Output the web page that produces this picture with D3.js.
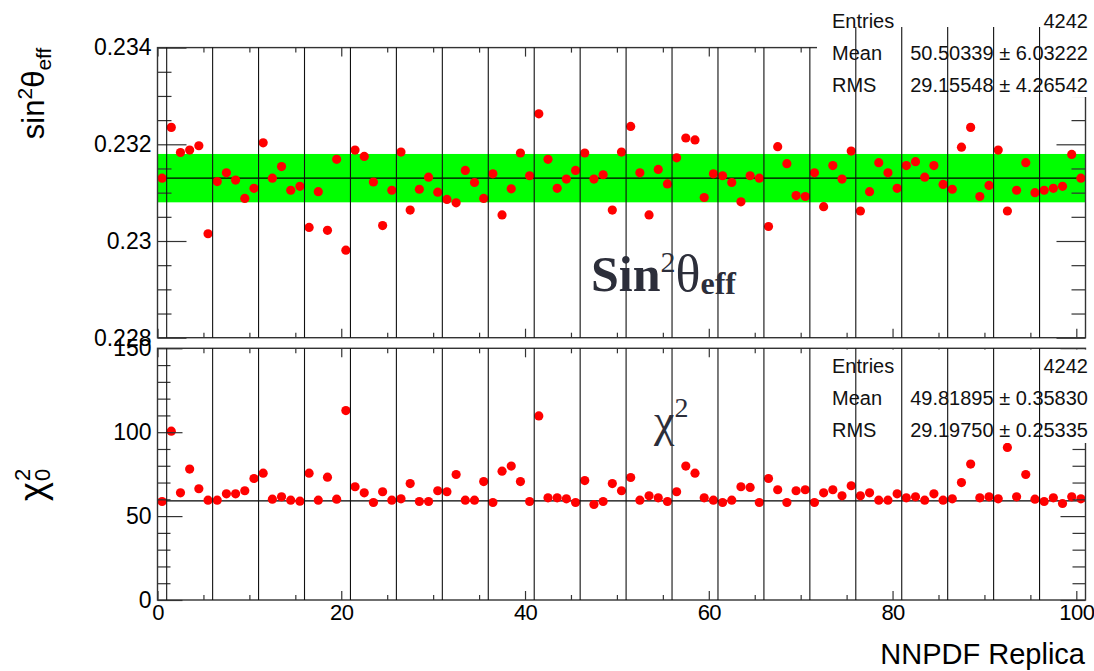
<!DOCTYPE html>
<html><head><meta charset="utf-8">
<script src="https://cdn.jsdelivr.net/npm/d3@7"></script>
<style>body{margin:0;background:#fff}svg{display:block}</style>
</head><body>
<svg id="c" width="1094" height="671"></svg>
<script>
// ---------- data ----------
const replicas = d3.range(0, 101); // replica index 0..100
const sinValues = [0.23130,0.23235,0.23183,0.23188,0.23197,0.23015,0.23123,0.23141,0.23126,0.23088,
0.23109,0.23203,0.23130,0.23154,0.23105,0.23113,0.23028,0.23102,0.23022,0.23169,
0.22981,0.23188,0.23175,0.23122,0.23032,0.23105,0.23184,0.23064,0.23107,0.23132,
0.23101,0.23086,0.23079,0.23146,0.23121,0.23088,0.23139,0.23054,0.23108,0.23182,
0.23135,0.23263,0.23169,0.23109,0.23128,0.23146,0.23182,0.23128,0.23137,0.23064,
0.23184,0.23237,0.23141,0.23054,0.23148,0.23118,0.23172,0.23213,0.23209,0.23090,
0.23139,0.23135,0.23121,0.23081,0.23135,0.23130,0.23030,0.23195,0.23160,0.23094,
0.23092,0.23141,0.23071,0.23156,0.23128,0.23186,0.23062,0.23102,0.23162,0.23141,
0.23109,0.23156,0.23164,0.23132,0.23156,0.23117,0.23107,0.23194,0.23235,0.23092,
0.23115,0.23188,0.23062,0.23105,0.23162,0.23100,0.23105,0.23109,0.23113,0.23179,
0.23130];
const chi2Values = [58.7,100.6,63.9,78.0,66.3,59.5,59.5,63.3,63.3,65.1,
72.4,75.6,60.1,61.5,59.5,58.9,75.6,59.5,73.2,60.1,
112.9,67.5,63.9,58.1,64.5,59.5,60.3,69.4,58.7,58.7,
65.1,64.5,74.8,59.5,59.5,70.6,58.1,76.8,79.8,70.6,
58.7,109.7,60.9,60.9,60.3,58.1,71.2,56.9,58.7,69.4,
65.1,73.0,59.5,62.1,60.9,58.7,64.5,79.8,75.6,60.9,
59.5,58.1,59.5,67.5,67.1,58.1,72.4,65.7,58.1,65.1,
65.7,58.1,63.9,65.7,62.1,68.1,62.1,63.9,59.5,59.5,
63.3,60.9,61.5,59.5,63.3,59.5,60.3,70.0,81.0,60.9,
61.5,60.3,90.9,61.5,74.8,60.1,58.7,60.9,57.5,61.5,
60.3];
const sinCentral = 0.2313;
const sinBand = [0.2308, 0.2318];
const chi2Central = 59.1;
const sinYTicks = [0.228, 0.230, 0.232, 0.234];
const sinYTickLabels = ["0.228", "0.23", "0.232", "0.234"];
const chiYTicks = [0, 50, 100, 150];
const chiYTickLabels = ["0", "50", "100", "150"];
const xTicks = [0, 20, 40, 60, 80, 100];
const xTickLabels = ["0", "20", "40", "60", "80", "100"];
const statsTop = [["Entries", "4242"], ["Mean", "50.50339 \u00b1 6.03222"], ["RMS", "29.15548 \u00b1 4.26542"]];
const statsBottom = [["Entries", "4242"], ["Mean", "49.81895 \u00b1 0.35830"], ["RMS", "29.19750 \u00b1 0.25335"]];

// ---------- layout ----------
const svg = d3.select("#c");
const L = 157.5, R = 1085.5;
const x = d3.scaleLinear().domain([0, 101]).range([L, R]);
const gridX = d3.range(1, 100, 5);
const xMinor = d3.range(0, 101, 5).filter(v => v % 20 !== 0);
const SANS = "'Liberation Sans', Arial, Helvetica, sans-serif";
const SERIF = "'Liberation Serif', 'Times New Roman', serif";
const boxL = 817;

function panel(opt) {
  const y = opt.y;
  const T = y.range()[1], B = y.range()[0];
  const g = svg.append("g");
  if (opt.band) {
    g.append("rect").attr("x", L).attr("width", R - L)
      .attr("y", y(opt.band[1])).attr("height", y(opt.band[0]) - y(opt.band[1]))
      .attr("fill", "#00ff00");
  }
  g.append("line").attr("x1", L).attr("x2", R)
    .attr("y1", y(opt.central)).attr("y2", y(opt.central))
    .attr("stroke", "#000").attr("stroke-width", 1.2);
  g.selectAll("circle.pt").data(opt.values).join("circle")
    .attr("class", "pt")
    .attr("cx", (d, i) => x(replicas[i] + 0.5))
    .attr("cy", d => y(d)).attr("r", 4.6).attr("fill", "#ff0000");

  const tk = (axis, tx, ty) => {
    const a = g.append("g").attr("transform", `translate(${tx},${ty})`).call(axis);
    a.select(".domain").remove();
    a.selectAll("line").attr("stroke", "#333").attr("stroke-width", 1.2);
    return a;
  };
  tk(d3.axisRight(y).tickValues(opt.yTicks).tickSize(opt.yMaj).tickFormat(""), L, 0);
  tk(d3.axisRight(y).tickValues(opt.yMinor).tickSize(opt.yMin).tickFormat(""), L, 0);
  tk(d3.axisLeft(y).tickValues(opt.yTicks).tickSize(opt.yMaj).tickFormat(""), R, 0);
  tk(d3.axisLeft(y).tickValues(opt.yMinor).tickSize(opt.yMin).tickFormat(""), R, 0);
  tk(d3.axisTop(x).tickValues(xTicks).tickSize(9).tickFormat(""), 0, B);
  tk(d3.axisTop(x).tickValues(xMinor).tickSize(5).tickFormat(""), 0, B);
  tk(d3.axisBottom(x).tickValues(xTicks).tickSize(9).tickFormat(""), 0, T);
  tk(d3.axisBottom(x).tickValues(xMinor).tickSize(5).tickFormat(""), 0, T);

  const yl = g.append("g").attr("transform", `translate(${L},0)`)
    .call(d3.axisLeft(y).tickValues(opt.yTicks).tickSize(0).tickPadding(6)
      .tickFormat((d, i) => opt.yLabels[i]));
  yl.select(".domain").remove();
  yl.selectAll("text").attr("font-family", SANS).attr("font-size", 23).attr("fill", "#000");

  if (opt.xLabels) {
    const xl = g.append("g").attr("transform", `translate(0,${B})`)
      .call(d3.axisBottom(x).tickValues(xTicks).tickSize(0).tickPadding(4)
        .tickFormat((d, i) => xTickLabels[i]));
    xl.select(".domain").remove();
    xl.selectAll("text").attr("font-family", SANS).attr("font-size", 22)
      .attr("letter-spacing", -0.6).attr("fill", "#000");
  }

  g.append("rect").attr("x", L).attr("y", T).attr("width", R - L).attr("height", B - T)
    .attr("fill", "none").attr("stroke", "#333").attr("stroke-width", 1.4);

  g.append("rect").attr("x", boxL).attr("y", opt.boxTop).attr("width", 1094 - boxL)
    .attr("height", opt.boxBottom - opt.boxTop).attr("fill", "#fff");
  opt.stats.forEach((s, i) => {
    g.append("text").attr("x", 832).attr("y", opt.statsBase + i * 32)
      .attr("font-family", SANS).attr("font-size", 20).attr("fill", "#111").text(s[0]);
    g.append("text").attr("x", 1088).attr("y", opt.statsBase + i * 32).attr("text-anchor", "end")
      .attr("font-family", SANS).attr("font-size", 20).attr("fill", "#111").text(s[1]);
  });

  g.selectAll("line.grid").data(gridX).join("line").attr("class", "grid")
    .attr("x1", d => x(d)).attr("x2", d => x(d))
    .attr("y1", d => (opt.gridExt && x(d) > boxL) ? opt.gridExt : T)
    .attr("y2", B).attr("stroke", "#111").attr("stroke-width", 1.1);
  return g;
}

const yTop = d3.scaleLinear().domain([0.228, 0.234]).range([337.7, 47.6]);
const yBot = d3.scaleLinear().domain([0, 150]).range([600, 348.3]);

panel({
  y: yTop, values: sinValues, central: sinCentral, band: sinBand,
  yTicks: sinYTicks, yLabels: sinYTickLabels,
  yMinor: d3.range(0.2285, 0.234, 0.0005).filter(v => Math.abs((v * 1000) % 2) > 0.1 && Math.abs((v * 1000) % 2 - 2) > 0.1),
  yMaj: 29, yMin: 14, xLabels: false,
  boxTop: 0, boxBottom: 97, stats: statsTop, statsBase: 28, gridExt: 27
});
panel({
  y: yBot, values: chi2Values, central: chi2Central, band: null,
  yTicks: chiYTicks, yLabels: chiYTickLabels, yMinor: d3.range(10, 150, 10).filter(v => v % 50 !== 0),
  yMaj: 25, yMin: 13, xLabels: true,
  boxTop: 349.6, boxBottom: 443, stats: statsBottom, statsBase: 373, gridExt: null
});

// ---------- axis titles ----------
const t1 = svg.append("text").attr("transform", "translate(44,47.6) rotate(-90)")
  .attr("text-anchor", "end").attr("font-family", SANS).attr("font-size", 31).attr("fill", "#000");
t1.append("tspan").text("sin");
t1.append("tspan").attr("font-size", 21).attr("dy", -12).text("2");
t1.append("tspan").attr("dy", 12).text("\u03b8");
t1.append("tspan").attr("font-size", 21).attr("dy", 7).text("eff");

const t2 = svg.append("g").attr("transform", "translate(45,501) rotate(-90)")
  .attr("font-family", SANS).attr("fill", "#000");
const chi = t2.append("text").attr("x", 0).attr("y", 0).attr("font-size", 36).text("\u03c7");
const cw = chi.node().getComputedTextLength();
t2.append("text").attr("x", cw + 1).attr("y", -15).attr("font-size", 22).text("2");
t2.append("text").attr("x", cw + 1).attr("y", 5).attr("font-size", 22).text("0");

svg.append("text").attr("x", 1085).attr("y", 664).attr("text-anchor", "end")
  .attr("font-family", SANS).attr("font-size", 29).attr("fill", "#000").text("NNPDF Replica");

// ---------- annotations ----------
const a1 = svg.append("text").attr("x", 591).attr("y", 291)
  .attr("font-family", SERIF).attr("fill", "#2c2e3a");
a1.append("tspan").attr("font-size", 50).attr("font-weight", "bold").text("Sin");
a1.append("tspan").attr("font-size", 30).attr("dy", -19).text("2");
a1.append("tspan").attr("font-size", 52).attr("dy", 19).text("\u03b8");
a1.append("tspan").attr("font-size", 32).attr("font-weight", "bold").attr("dy", 3).text("eff");

const a2 = svg.append("text").attr("x", 654).attr("y", 436)
  .attr("font-family", SERIF).attr("fill", "#2c2e3a");
a2.append("tspan").attr("font-size", 46).text("\u03c7");
a2.append("tspan").attr("font-size", 28).attr("dy", -19).text("2");
</script>
</body></html>
